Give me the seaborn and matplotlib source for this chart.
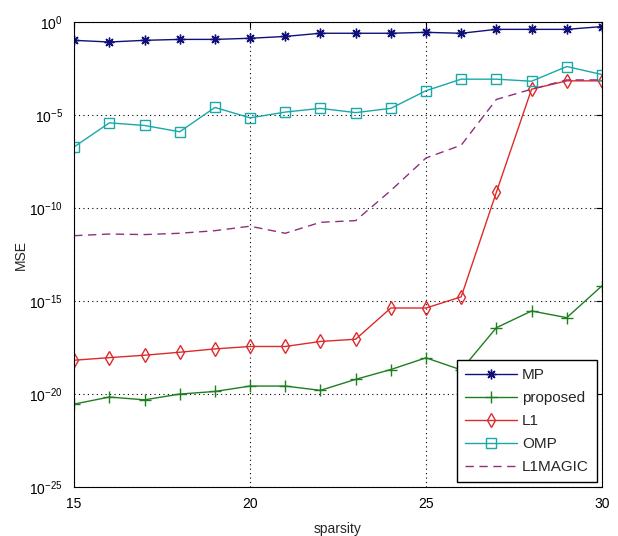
import numpy as np
import pandas as pd
import matplotlib
matplotlib.use("Agg")
import matplotlib.pyplot as plt
import seaborn as sns

# sparsity levels on the x axis
sparsity = list(range(15, 31))

# MSE values, given as log10 exponents
mp_exp = [-0.97, -1.06, -0.97, -0.92, -0.92, -0.86, -0.76, -0.59,
          -0.59, -0.59, -0.54, -0.59, -0.38, -0.38, -0.38, -0.23]
proposed_exp = [-20.54, -20.16, -20.31, -20.0, -19.86, -19.57, -19.57, -19.8,
                -19.21, -18.68, -18.05, -18.7, -16.43, -15.53, -15.89, -14.18]
l1_exp = [-18.18, -18.04, -17.91, -17.75, -17.57, -17.44, -17.44, -17.17,
          -17.05, -15.37, -15.37, -14.77, -9.14, -3.6, -3.15, -3.15]
omp_exp = [-6.7, -5.41, -5.55, -5.89, -4.58, -5.14, -4.83, -4.63,
           -4.86, -4.63, -3.68, -3.06, -3.06, -3.17, -2.38, -2.81]
l1magic_exp = [-11.48, -11.39, -11.42, -11.35, -11.21, -10.97, -11.35, -10.76,
               -10.67, -9.05, -7.3, -6.61, -4.15, -3.6, -3.1, -3.1]

y_ticks = [1e-25, 1e-20, 1e-15, 1e-10, 1e-5, 1e0]

sns.set_style("white", {"xtick.direction": "in", "ytick.direction": "in"})
plt.rcParams['font.family'] = ['Liberation Sans', 'DejaVu Sans']
plt.rcParams['font.size'] = 10
plt.rcParams['mathtext.fontset'] = 'custom'
plt.rcParams['mathtext.rm'] = 'Liberation Sans'
plt.rcParams['mathtext.it'] = 'Liberation Sans'

fig = plt.figure(figsize=(6.18, 5.36), dpi=100)
ax = fig.add_axes([0.120, 0.0914, 0.854, 0.867])

series = [
    ("MP", mp_exp, "#10107a", (8, 2, 0), "-", 7),
    ("proposed", proposed_exp, "#1f7f1f", "+", "-", 9),
    ("L1", l1_exp, "#dd2a2a", "d", "-", 7.5),
    ("OMP", omp_exp, "#1aa8a8", "s", "-", 7.5),
    ("L1MAGIC", l1magic_exp, "#8e2f7e", None, (0, (6, 4)), 0),
]

for name, exps, color, marker, ls, ms in series:
    vals = [10.0 ** e for e in exps]
    kw = dict(x=sparsity, y=vals, ax=ax, color=color, label=name,
              linewidth=1.0, linestyle=ls, errorbar=None)
    if marker is not None:
        kw.update(marker=marker, markersize=ms,
                  markerfacecolor="none", markeredgecolor=color,
                  markeredgewidth=1.0)
    sns.lineplot(**kw)

ax.set_yscale("log")
ax.set_xlim(15, 30)
ax.set_ylim(1e-25, 1e0)
ax.set_xticks([15, 20, 25, 30])
ax.set_yticks(y_ticks)
ax.minorticks_off()
ax.grid(True, which="major", color="black", linestyle=(0, (1, 3)), linewidth=0.8)
ax.tick_params(direction="in", length=4, width=0.8, top=True, right=True,
               labelsize=10, colors="black")
ax.tick_params(axis="y", pad=8)
ax.tick_params(axis="x", pad=7)
for sp in ax.spines.values():
    sp.set_visible(True)
    sp.set_color("black")
    sp.set_linewidth(0.8)

ax.set_xlabel("sparsity", fontsize=10, labelpad=8)
ax.set_ylabel("MSE", fontsize=10, labelpad=1)

leg = ax.legend(loc="lower right", fancybox=False, framealpha=1, edgecolor="black",
                borderaxespad=0.35, handlelength=3.4, handletextpad=0.33,
                labelspacing=0.59, fontsize=11, borderpad=0.5)
leg.get_frame().set_linewidth(1.0)

fig.savefig("out.png", dpi=100)
